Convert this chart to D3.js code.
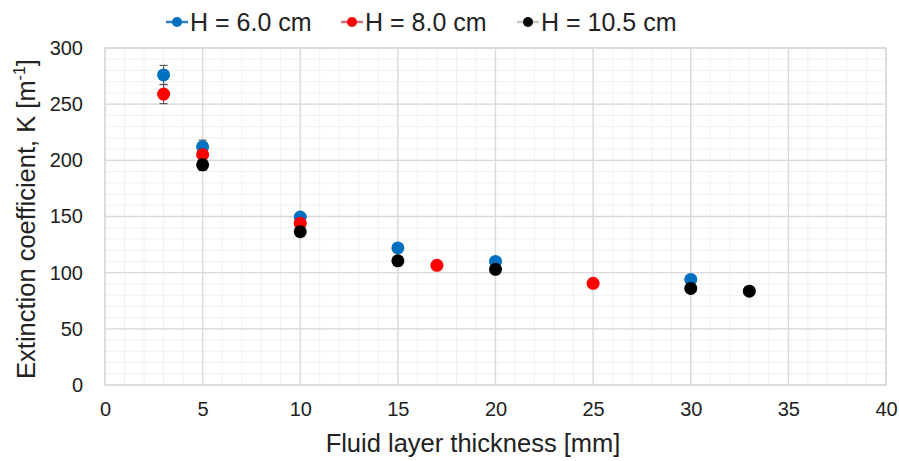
<!DOCTYPE html>
<html><head><meta charset="utf-8">
<script src="https://cdn.jsdelivr.net/npm/d3@7"></script>
<style>body{margin:0;background:#fff}svg{display:block}</style>
</head><body>
<svg id="c" width="899" height="461"></svg>
<script>
const seriesNames = ["H = 6.0 cm", "H = 8.0 cm", "H = 10.5 cm"];
const seriesColors = ["#0070C0", "#FF0000", "#000000"];
const legendLineColors = ["#2f7fc8", "#d66a7a", "#c9c5bd"];
const xH6 = [3, 5, 10, 15, 20, 30];
const yH6 = [276, 212, 149.5, 122, 110, 94];
const eH6 = [8.5, 6, 3, 3, 2, 2];
const xH8 = [3, 5, 10, 17, 25];
const yH8 = [259, 205, 144, 106.5, 90.5];
const eH8 = [8.5, 4, 3, 2, 2];
const xH105 = [5, 10, 15, 20, 30, 33];
const yH105 = [196, 136.5, 110.5, 103, 86, 83.5];
const eH105 = [5, 3, 3, 2, 2, 2];
const xTicks = [0, 5, 10, 15, 20, 25, 30, 35, 40];
const yTicks = [0, 50, 100, 150, 200, 250, 300];
const xTitle = "Fluid layer thickness [mm]";
const yTitle = "Extinction coefficient, K [m";

const series = [
  {x: xH6, y: yH6, e: eH6},
  {x: xH8, y: yH8, e: eH8},
  {x: xH105, y: yH105, e: eH105}
];

const L = 105, R = 886, T = 48, B = 385;
const svg = d3.select("#c");
const font = "'Liberation Sans', Arial, sans-serif";
const x = d3.scaleLinear().domain([0, 40]).range([L, R]);
const y = d3.scaleLinear().domain([0, 300]).range([B, T]);

// minor grid
const g = svg.append("g");
g.selectAll(".mx").data(d3.range(0, 41, 1)).join("line")
  .attr("x1", d => x(d)).attr("x2", d => x(d)).attr("y1", T).attr("y2", B)
  .attr("stroke", "#f0f0f0").attr("stroke-width", 1);
g.selectAll(".my").data(d3.range(0, 301, 10)).join("line")
  .attr("x1", L).attr("x2", R).attr("y1", d => y(d)).attr("y2", d => y(d))
  .attr("stroke", "#f0f0f0").attr("stroke-width", 1);
// major grid
g.selectAll(".Mx").data(xTicks).join("line")
  .attr("x1", d => x(d)).attr("x2", d => x(d)).attr("y1", T).attr("y2", B)
  .attr("stroke", "#d9d9d9").attr("stroke-width", 1.3);
g.selectAll(".My").data(yTicks).join("line")
  .attr("x1", L).attr("x2", R).attr("y1", d => y(d)).attr("y2", d => y(d))
  .attr("stroke", "#d9d9d9").attr("stroke-width", 1.3);
svg.append("rect").attr("x", L).attr("y", T).attr("width", R - L).attr("height", B - T)
  .attr("fill", "none").attr("stroke", "#d9d9d9").attr("stroke-width", 1.3);

// axes labels via d3 axes
const xa = svg.append("g").attr("transform", `translate(0,${B})`)
  .call(d3.axisBottom(x).tickValues(xTicks).tickSize(0).tickPadding(17));
xa.select(".domain").remove();
xa.selectAll("text").attr("font-family", font).attr("font-size", 20).attr("fill", "#222");
const ya = svg.append("g").attr("transform", `translate(${L},0)`)
  .call(d3.axisLeft(y).tickValues(yTicks).tickSize(0).tickPadding(22));
ya.select(".domain").remove();
ya.selectAll("text").attr("font-family", font).attr("font-size", 20).attr("fill", "#222");

// titles
svg.append("text").attr("x", 473).attr("y", 452).attr("text-anchor", "middle")
  .attr("font-family", font).attr("font-size", 25.5).attr("fill", "#222").text(xTitle);
const yt = svg.append("text").attr("transform", `translate(35,219) rotate(-90)`)
  .attr("text-anchor", "middle").attr("font-family", font).attr("font-size", 25.5).attr("fill", "#222");
yt.append("tspan").text(yTitle);
yt.append("tspan").attr("font-size", 16).attr("dy", -10).text("-1");
yt.append("tspan").attr("dy", 10).text("]");

// error bars + points
series.forEach((s, i) => {
  const pts = s.x.map((xv, j) => ({x: xv, y: s.y[j], e: s.e[j]}));
  const eg = svg.append("g").attr("stroke", "#595959").attr("stroke-width", 1.2);
  pts.forEach(p => {
    eg.append("line").attr("x1", x(p.x)).attr("x2", x(p.x)).attr("y1", y(p.y - p.e)).attr("y2", y(p.y + p.e));
    [p.y - p.e, p.y + p.e].forEach(v => {
      eg.append("line").attr("x1", x(p.x) - 4).attr("x2", x(p.x) + 4).attr("y1", y(v)).attr("y2", y(v));
    });
  });
  svg.append("g").selectAll("circle").data(pts).join("circle")
    .attr("cx", d => x(d.x)).attr("cy", d => y(d.y)).attr("r", 6.5)
    .attr("fill", seriesColors[i]);
});

// legend
const legX = [166, 341, 517];
seriesNames.forEach((n, i) => {
  const lg = svg.append("g");
  lg.append("line").attr("x1", legX[i]).attr("x2", legX[i] + 22).attr("y1", 22).attr("y2", 22)
    .attr("stroke", legendLineColors[i]).attr("stroke-width", 2.5);
  lg.append("circle").attr("cx", legX[i] + 11).attr("cy", 22).attr("r", 5).attr("fill", seriesColors[i]);
  lg.append("text").attr("x", legX[i] + 24).attr("y", 31).attr("font-family", font)
    .attr("font-size", 25).attr("fill", "#222").text(n);
});
</script>
</body></html>
